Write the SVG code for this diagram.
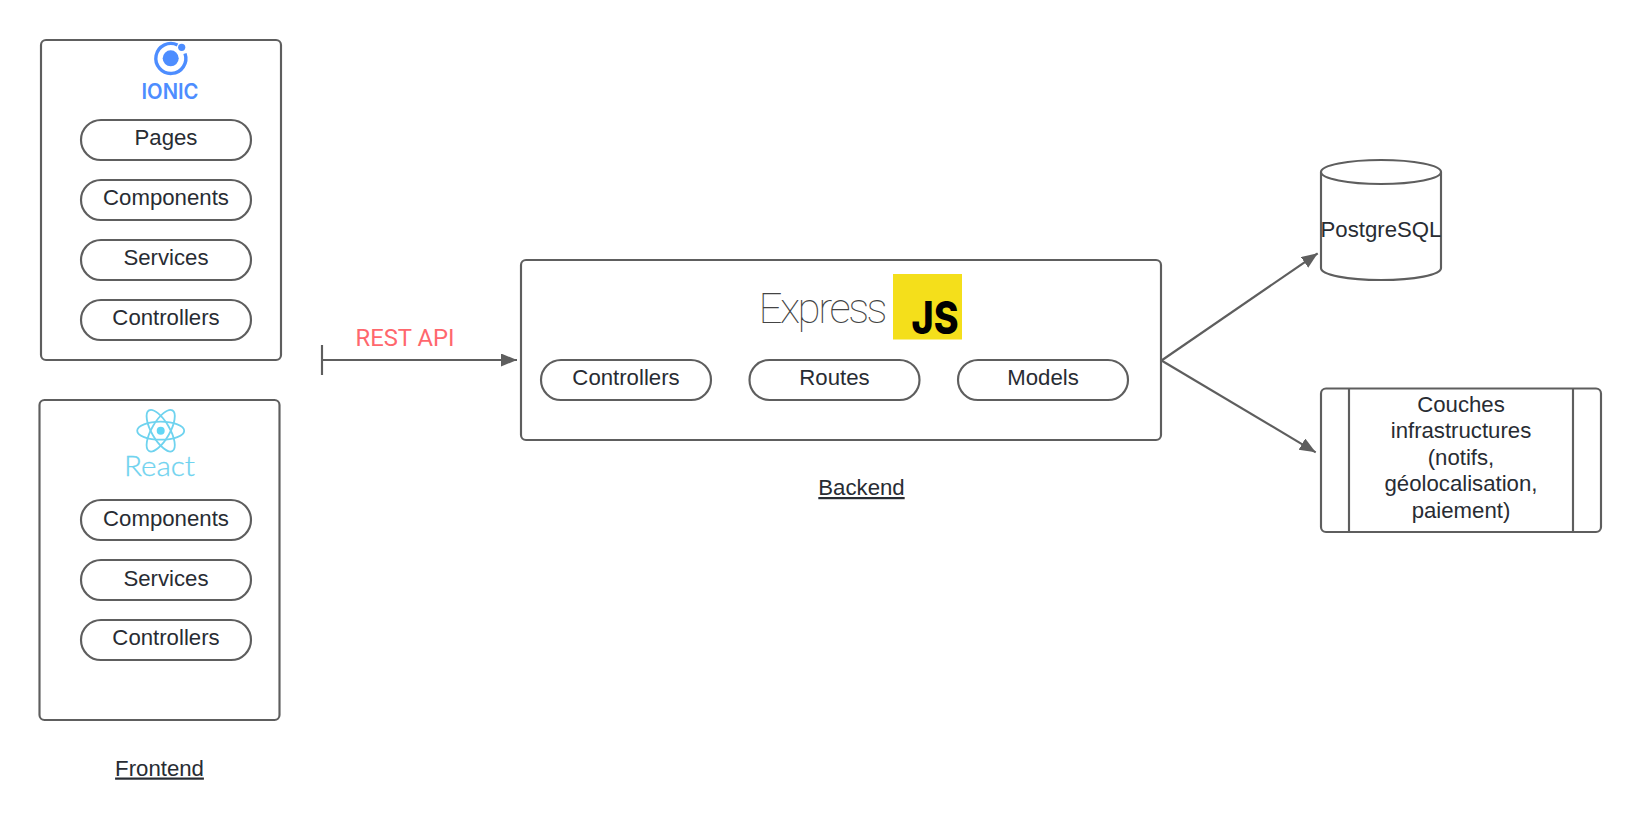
<svg xmlns="http://www.w3.org/2000/svg" width="1641" height="840" viewBox="0 0 1641 840">
<style>
.box{fill:#fff;stroke:#5e5e5e;stroke-width:2.15}
.ln{fill:none;stroke:#5e5e5e;stroke-width:2.15}
.t{font-family:"Liberation Sans",Arial,sans-serif;font-size:22.2px;fill:#282c33;text-anchor:middle}
.u{text-decoration:underline}
</style>
<defs>
<marker id="arrow" markerUnits="userSpaceOnUse" markerWidth="18" markerHeight="14" refX="16" refY="6.5" orient="auto"><path d="M0,0L16,6.5L0,13Z" fill="#5e5e5e"/></marker>
</defs>
<rect width="1641" height="840" fill="#fff"/>
<g id="connectors">
<path class="ln" d="M322,345V375M322,360H517" marker-end="url(#arrow)"/>
<path class="ln" d="M1161.5,360.5L1317.7,253.3" marker-end="url(#arrow)"/>
<path class="ln" d="M1161.5,360.5L1315.7,452.3" marker-end="url(#arrow)"/>
</g>
<g id="ionic-panel">
<rect class="box" x="41" y="40" width="240" height="320" rx="5"/>
<g id="ionic-logo">
<path d="M177.5,45A15,15 0 1 0 185,53.500" fill="none" stroke="#4d8dff" stroke-width="3.4"/>
<circle cx="170.7" cy="58.3" r="8" fill="#4d8dff"/>
<circle cx="181.7" cy="47.3" r="3.6" fill="#4d8dff"/>
<text x="170" y="99" font-family="Inter,'Liberation Sans',sans-serif" font-weight="600" font-size="21" fill="#4d8dff" text-anchor="middle" textLength="57" lengthAdjust="spacingAndGlyphs">IONIC</text>
</g>
</g>
<g id="ionic-pages"><rect class="box" x="81" y="120" width="170" height="40" rx="20"/><text class="t" x="166" y="145">Pages</text></g>
<g id="ionic-components"><rect class="box" x="81" y="180" width="170" height="40" rx="20"/><text class="t" x="166" y="205">Components</text></g>
<g id="ionic-services"><rect class="box" x="81" y="240" width="170" height="40" rx="20"/><text class="t" x="166" y="265">Services</text></g>
<g id="ionic-controllers"><rect class="box" x="81" y="300" width="170" height="40" rx="20"/><text class="t" x="166" y="325">Controllers</text></g>
<g id="react-panel">
<rect class="box" x="39.500" y="400" width="240" height="320" rx="5"/>
<g id="react-logo" fill="none" stroke="#6fd3ef" stroke-width="1.8">
<ellipse cx="160.7" cy="430.7" rx="23.5" ry="9"/>
<ellipse cx="160.7" cy="430.7" rx="23.5" ry="9" transform="rotate(60 160.7 430.7)"/>
<ellipse cx="160.7" cy="430.7" rx="23.5" ry="9" transform="rotate(120 160.7 430.7)"/>
<circle cx="160.7" cy="430.7" r="4" fill="#61d6f5" stroke="none"/>
</g>
<text x="159.5" y="476" font-family="Lato,'Liberation Sans',sans-serif" font-weight="300" font-size="28" fill="#6fd3ef" stroke="#6fd3ef" stroke-width="0.3" text-anchor="middle" textLength="71" lengthAdjust="spacingAndGlyphs">React</text>
</g>
<g id="react-components"><rect class="box" x="81" y="500" width="170" height="40" rx="20"/><text class="t" x="166" y="525.500">Components</text></g>
<g id="react-services"><rect class="box" x="81" y="560" width="170" height="40" rx="20"/><text class="t" x="166" y="585.500">Services</text></g>
<g id="react-controllers"><rect class="box" x="81" y="620" width="170" height="40" rx="20"/><text class="t" x="166" y="645">Controllers</text></g>
<g id="frontend-label"><text class="t u" x="159.5" y="775.500">Frontend</text></g>
<g id="rest-label"><text x="405" y="346" font-family="Roboto,'Liberation Sans',sans-serif" font-size="23" fill="#ff676d" text-anchor="middle" textLength="99" lengthAdjust="spacingAndGlyphs">REST API</text></g>
<g id="backend-panel">
<rect class="box" x="521" y="260" width="640" height="180" rx="5"/>
<text x="823" y="323" font-family="Roboto,Lato,'Liberation Sans',sans-serif" font-weight="100" font-size="42" fill="#444" text-anchor="middle" textLength="129" lengthAdjust="spacing">Express</text>
<rect x="893" y="274" width="69" height="65.5" fill="#f4df1b"/>
<text x="935" y="334" font-family="Inter,'Liberation Sans',sans-serif" font-weight="800" font-size="45" fill="#000" text-anchor="middle" textLength="47" lengthAdjust="spacingAndGlyphs">JS</text>
</g>
<g id="backend-controllers"><rect class="box" x="541" y="360" width="170" height="40" rx="20"/><text class="t" x="626" y="385">Controllers</text></g>
<g id="backend-routes"><rect class="box" x="749.500" y="360" width="170" height="40" rx="20"/><text class="t" x="834.5" y="385">Routes</text></g>
<g id="backend-models"><rect class="box" x="958" y="360" width="170" height="40" rx="20"/><text class="t" x="1043" y="385">Models</text></g>
<g id="backend-label"><text class="t u" x="861.5" y="495">Backend</text></g>
<g id="postgresql">
<path class="box" d="M1321,172V268C1321,275 1348,280 1381,280C1414,280 1441,275 1441,268V172"/>
<ellipse class="box" cx="1381" cy="172" rx="60" ry="12"/>
<text class="t" x="1381" y="236.500">PostgreSQL</text>
</g>
<g id="infrastructure">
<rect class="box" x="1321" y="388.500" width="280" height="143.500" rx="5"/>
<path class="ln" d="M1349,388.500V532M1573,388.500V532"/>
<text class="t" x="1461" y="412">Couches</text>
<text class="t" x="1461" y="438">infrastructures</text>
<text class="t" x="1461" y="464.500">(notifs,</text>
<text class="t" x="1461" y="491">géolocalisation,</text>
<text class="t" x="1461" y="517.500">paiement)</text>
</g>
</svg>
